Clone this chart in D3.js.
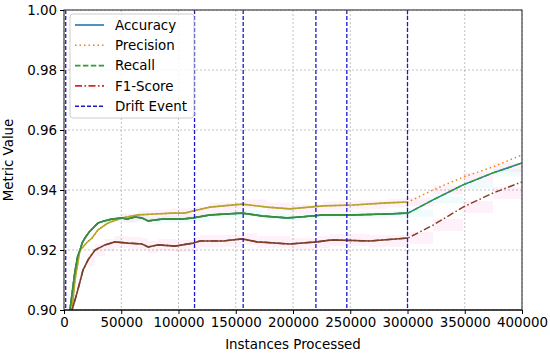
<!DOCTYPE html>
<meta charset="utf-8">
<style>
body { margin: 0; background: #fff; }
text { font-family: "DejaVu Sans", sans-serif; fill: #000; }
.grid line { stroke: #b0b0b0; stroke-width: 0.8; stroke-dasharray: 2,2; }
.axis path { display: none; }
.axis line { stroke: #000; }
.axis text { font-size: 13.4px; }
</style>
<body>
<script src="https://cdn.jsdelivr.net/npm/d3@7"></script>
<script>

// instances processed (x) for each reading
var accX = [0, 5200, 9600, 12000, 14000, 16000, 18300, 22000, 29700, 35000, 41900, 50600, 55000, 62000, 68000, 73400, 85600, 103000, 112700,
            127500, 155500, 173800, 194800, 206100, 226200, 252400, 282100, 300500,
            322300, 348500, 374700, 400000];
var accuracy = [0.893, 0.900, 0.913, 0.918, 0.920, 0.9225, 0.924, 0.926, 0.929, 0.9297, 0.9303, 0.9307, 0.9303, 0.931, 0.9307, 0.9297, 0.9303, 0.9303, 0.9307,
                0.9317, 0.9323, 0.9313, 0.9307, 0.931, 0.9317, 0.9317, 0.932, 0.9323,
                0.9367, 0.9417, 0.9457, 0.949];
var recall = accuracy.slice();

var precX = [0, 7000, 9600, 14000, 16600, 20000, 24500, 29700, 38400, 50600, 64600, 79500, 94300, 105700, 112700,
             127500, 155500, 177300, 197400, 226200, 252400, 282100, 300500,
             322300, 348500, 374700, 400000];
var precision = [0.890, 0.900, 0.910, 0.920, 0.921, 0.9225, 0.924, 0.9267, 0.929, 0.9307, 0.9317, 0.932, 0.9323, 0.9323, 0.933,
                 0.9343, 0.9353, 0.9343, 0.9337, 0.9347, 0.935, 0.9357, 0.936,
                 0.940, 0.9443, 0.9477, 0.9517];

var f1X = [0, 7000, 11400, 16600, 21000, 27100, 35800, 44500, 55800, 68100, 73400, 82100, 97000, 112700,
           118800, 138900, 155500, 168600, 197400, 221000, 232300, 241000, 267200, 300500,
           322300, 348500, 374700, 400000];
var f1 = [0.885, 0.900, 0.9057, 0.9133, 0.9167, 0.920, 0.9217, 0.9227, 0.9223, 0.922, 0.921, 0.9217, 0.9213, 0.9223,
          0.923, 0.923, 0.9237, 0.9227, 0.922, 0.9227, 0.9233, 0.9233, 0.923, 0.924,
          0.9283, 0.9343, 0.939, 0.9427];

var driftEvents = [1500, 114000, 156500, 220000, 247000, 300000];

var xTicks = [0, 50000, 100000, 150000, 200000, 250000, 300000, 350000, 400000];
var yTicks = [0.90, 0.92, 0.94, 0.96, 0.98, 1.00];

var margin = {top: 10, right: 28, bottom: 45, left: 64},
    width = 550 - margin.left - margin.right,
    height = 355 - margin.top - margin.bottom;

var x = d3.scaleLinear().domain([0, 400000]).range([0, width]);
var y = d3.scaleLinear().domain([0.90, 1.00]).range([height, 0]);

var svg = d3.select("body").append("svg")
    .attr("width", 550)
    .attr("height", 355)
  .append("g")
    .attr("transform", "translate(" + margin.left + "," + margin.top + ")");

svg.append("defs").append("clipPath").attr("id", "clip")
  .append("rect").attr("width", width).attr("height", height);

// grid
svg.append("g").attr("class", "grid")
  .selectAll("line").data(xTicks).enter().append("line")
    .attr("x1", x).attr("x2", x).attr("y1", 0).attr("y2", height);
svg.append("g").attr("class", "grid")
  .selectAll("line").data(yTicks).enter().append("line")
    .attr("y1", y).attr("y2", y).attr("x1", 0).attr("x2", width);

function pts(xs, vs) { return xs.map(function(d, i) { return [d, vs[i]]; }); }

var plot = svg.append("g").attr("clip-path", "url(#clip)");

// faint bands
function band(data, half, color) {
  plot.append("path")
      .datum(data)
      .attr("fill", color)
      .attr("opacity", 0.06)
      .attr("d", d3.area().curve(d3.curveStepAfter)
        .x(function(d) { return x(d[0]); })
        .y0(function(d) { return y(d[1] - half); })
        .y1(function(d) { return y(d[1] + half); }));
}
band(pts(precX, precision).filter(function(d) { return d[0] > 50000; }), 0.0015, "#ff1493");
band(pts(f1X, f1).filter(function(d) { return d[0] > 20000; }), 0.002, "#ff1493");
band(pts(accX, accuracy).filter(function(d) { return d[0] > 30000; }), 0.0012, "#00ced1");

var line = d3.line().x(function(d) { return x(d[0]); }).y(function(d) { return y(d[1]); });

function draw(data, color, dash, w) {
  plot.append("path")
      .datum(data)
      .attr("fill", "none")
      .attr("stroke", color)
      .attr("stroke-width", w || 1.5)
      .attr("stroke-dasharray", dash)
      .attr("d", line);
}

var early = function(d) { return d[0] <= 300500; };

draw(pts(accX, accuracy), "#1f77b4", null);
draw(pts(precX, precision), "#ff7f0e", "1.5,3");
draw(pts(accX, recall), "#2ca02c", "5.5,2.4");
draw(pts(f1X, f1), "#8c3a28", "7,2.5,1.5,2.5");

// overlapped segment look before the last drift
draw(pts(precX, precision).filter(early), "#b0a628", null, 1.6);
draw(pts(accX, accuracy).filter(early), "#3d8a3a", null, 1.6);
draw(pts(f1X, f1).filter(early), "#7a4028", null, 1.6);

// drift events
svg.selectAll(".drift").data(driftEvents).enter().append("line")
    .attr("class", "drift")
    .attr("x1", x).attr("x2", x)
    .attr("y1", 0).attr("y2", height)
    .attr("stroke", "#1a1acc")
    .attr("stroke-width", 1.3)
    .attr("stroke-dasharray", "4,2");

// spines
svg.append("rect")
    .attr("width", width).attr("height", height)
    .attr("fill", "none").attr("stroke", "#444").attr("stroke-width", 1.2);
svg.append("line").attr("x1", 0).attr("x2", width).attr("y1", height).attr("y2", height)
    .attr("stroke", "#000").attr("stroke-width", 1);

// axes
svg.append("g").attr("class", "axis")
    .attr("transform", "translate(0," + height + ")")
    .call(d3.axisBottom(x).tickValues(xTicks).tickFormat(d3.format("d")).tickSize(4).tickPadding(3));
svg.append("g").attr("class", "axis")
    .call(d3.axisLeft(y).tickValues(yTicks).tickFormat(d3.format(".2f")).tickSize(4).tickPadding(3));

svg.append("text")
    .attr("x", width / 2).attr("y", height + 39)
    .attr("text-anchor", "middle").style("font-size", "13.4px")
    .text("Instances Processed");
svg.append("text")
    .attr("transform", "rotate(-90)")
    .attr("x", -height / 2).attr("y", -51)
    .attr("text-anchor", "middle").style("font-size", "13.4px")
    .text("Metric Value");

// legend
var legendItems = [
  {name: "Accuracy", color: "#1f77b4", dash: null},
  {name: "Precision", color: "#ff7f0e", dash: "1.5,3"},
  {name: "Recall", color: "#2ca02c", dash: "5.5,2.4"},
  {name: "F1-Score", color: "#d62728", dash: "7,2.5,1.5,2.5"},
  {name: "Drift Event", color: "#1a1acc", dash: "4,2"}
];
var lg = svg.append("g").attr("transform", "translate(6,4)");
lg.append("rect")
    .attr("width", 124).attr("height", 104).attr("rx", 3)
    .attr("fill", "#fff").attr("fill-opacity", 0.85)
    .attr("stroke", "#ccc");
var item = lg.selectAll(".li").data(legendItems).enter().append("g")
    .attr("transform", function(d, i) { return "translate(0," + (11 + i * 20.3) + ")"; });
item.append("line")
    .attr("x1", 5).attr("x2", 34)
    .attr("stroke", function(d) { return d.color; })
    .attr("stroke-width", 1.6)
    .attr("stroke-dasharray", function(d) { return d.dash; });
item.append("text")
    .attr("x", 45).attr("dy", "0.35em")
    .style("font-size", "13.4px")
    .text(function(d) { return d.name; });

</script>
